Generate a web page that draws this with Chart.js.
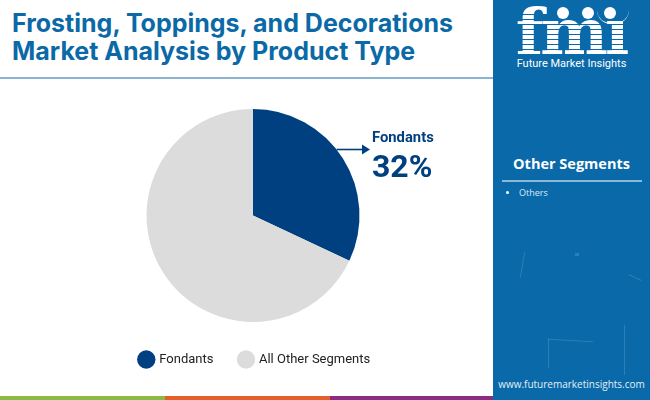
<!DOCTYPE html>
<html><head><meta charset="utf-8">
<script src="https://cdn.jsdelivr.net/npm/chart.js@4"></script>
<style>
html,body{margin:0;padding:0;background:#fff}
#stage{position:relative;width:650px;height:400px;overflow:hidden;background:#fff}
#title{position:absolute;left:12px;top:9px;font:700 25px/28px Inter,sans-serif;color:#0a69a6;white-space:nowrap}
#rule{position:absolute;left:0;top:77px;width:493px;height:2px;background:#8ab4d4}
#chartBox{position:absolute;left:0;top:0;width:493px;height:396px}
#panel{position:absolute;left:493px;top:0;width:157px;height:400px;background:#0a69a8;overflow:hidden}
#logoText{position:absolute;left:22px;width:112px;top:0;text-align:center;font:700 64px/64px "DejaVu Serif",serif;color:#fff;letter-spacing:-3px}
#logoStripe{position:absolute;left:20px;top:10px;width:120px;height:48px;background:repeating-linear-gradient(to bottom,transparent 0 4px,#0a69a8 4px 5px)}
#logoSub{position:absolute;left:0;width:157px;top:57px;text-align:center;font:400 11px/14px Roboto,sans-serif;color:#fff}
.dot{position:absolute;width:12px;height:12px;border-radius:50%;background:#fff;top:7px}
#swoosh{position:absolute;left:104px;top:10px;width:32px;height:13px;border-bottom:1px solid #fff;border-radius:0 0 16px 16px}
#seg{position:absolute;left:0;width:157px;top:154px;text-align:center;font:700 14.5px/20px "Open Sans",sans-serif;color:#fff}
#segRule{position:absolute;left:9px;top:180px;width:140px;height:2px;background:#8ab9d8}
#bullet{position:absolute;left:13px;top:191px;width:3px;height:3px;border-radius:50%;background:#fff}
#other{position:absolute;left:26px;top:186px;font:400 9px/13px "Open Sans",sans-serif;color:#dbeaf4}
#url{position:absolute;left:0;width:157px;top:377px;text-align:center;font:400 10px/14px "Open Sans",sans-serif;color:#e3eff7;white-space:nowrap}
.stripe{position:absolute;top:396px;height:4px}
.sp{position:absolute;background:#5a9fcc;opacity:.4}
</style></head><body>
<div id="stage">
<div id="title">Frosting, Toppings, and Decorations<br>Market Analysis by Product Type</div>
<div id="rule"></div>
<div id="chartBox"><canvas id="c"></canvas></div>
<div class="stripe" style="left:0;width:165px;background:#8cbb45"></div>
<div class="stripe" style="left:165px;width:165px;background:#e2602c"></div>
<div class="stripe" style="left:330px;width:163px;background:#8a2c82"></div>
<div id="panel">
<div class="sp" style="left:29px;top:252px;width:1px;height:26px;transform:rotate(10deg)"></div>
<div class="sp" style="left:82px;top:253px;width:4px;height:3px"></div>
<div class="sp" style="left:131px;top:325px;width:1px;height:50px"></div>
<div class="sp" style="left:55px;top:338px;width:1px;height:30px"></div>
<div class="sp" style="left:55px;top:340px;width:45px;height:1px;transform:rotate(3deg)"></div>
<div class="sp" style="left:135px;top:277px;width:14px;height:1px;transform:rotate(25deg)"></div>
<div id="logoText">fmı</div><div id="logoStripe"></div>
<div class="dot" style="left:64px"></div><div class="dot" style="left:89px"></div><div class="dot" style="left:111px"></div>
<div id="swoosh"></div>
<div id="logoSub">Future Market Insights</div>
<div id="seg">Other Segments</div><div id="segRule"></div>
<div id="bullet"></div><div id="other">Others</div>
<div id="url">www.futuremarketinsights.com</div>
</div>
</div>
<script>
const categories = ["Fondants", "All Other Segments"];
const shareValues = [32, 68];
const sliceColors = ["#004080", "#dcdcdc"];
const calloutName = "Fondants";
const calloutValue = "32%";

const callout = {
  id: "callout",
  afterLayout(chart) {
    chart.legend.left += 2;
    chart.legend.right += 2;
  },
  afterDatasetsDraw(chart) {
    const arc = chart.getDatasetMeta(0).data[0];
    const {ctx} = chart;
    const y = arc.y - 66;
    const x0 = arc.x + Math.sqrt(arc.outerRadius * arc.outerRadius - 66 * 66);
    const tip = arc.x + 117;
    ctx.save();
    ctx.strokeStyle = "#004080"; ctx.fillStyle = "#004080"; ctx.lineWidth = 1.6;
    ctx.beginPath(); ctx.moveTo(x0, y); ctx.lineTo(tip - 6, y); ctx.stroke();
    ctx.beginPath(); ctx.moveTo(tip, y); ctx.lineTo(tip - 8, y - 5); ctx.lineTo(tip - 8, y + 5); ctx.closePath(); ctx.fill();
    ctx.textAlign = "left"; ctx.textBaseline = "alphabetic";
    ctx.font = "700 14.8px Roboto, sans-serif";
    ctx.fillText(calloutName, arc.x + 119, arc.y - 74);
    ctx.font = "700 32px Roboto, sans-serif";
    ctx.fillText(calloutValue, arc.x + 119, arc.y - 39);
    ctx.restore();
  }
};

new Chart(document.getElementById("c"), {
  type: "pie",
  data: { labels: categories, datasets: [{ data: shareValues, backgroundColor: sliceColors, borderWidth: 0 }] },
  options: {
    responsive: true, maintainAspectRatio: false, animation: false,
    radius: 106.5,
    layout: { padding: { left: 13, top: 104, bottom: 20 } },
    plugins: {
      tooltip: { enabled: false },
      legend: { position: "bottom",
        labels: { usePointStyle: true, pointStyle: "circle", boxHeight: 14, padding: 26, color: "#222", font: { family: "Roboto, sans-serif", size: 13 } } }
    }
  },
  plugins: [callout]
});
</script>
</body></html>
